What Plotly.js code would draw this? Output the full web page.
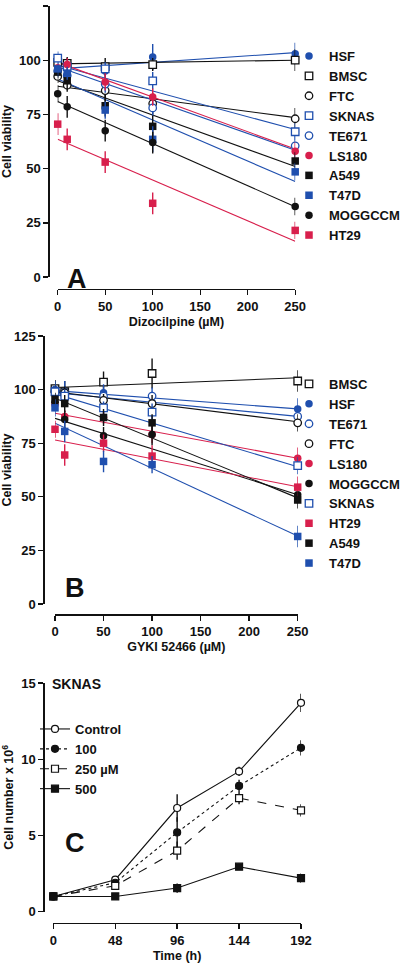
<!DOCTYPE html>
<html><head><meta charset="utf-8">
<script src="https://cdn.plot.ly/plotly-3.0.1.min.js"></script>
<style>html,body{margin:0;padding:0;background:#fff}#chart{width:400px;height:970px}</style>
</head><body><div id="chart"></div>
<script>
// ---------- DATA ----------
// Panel A: Dizocilpine (µM)
const doseA = [0, 10, 50, 100, 250];
const fitDoseA = [0, 250];
const orderA = ['HSF','BMSC','FTC','SKNAS','TE671','LS180','A549','T47D','MOGGCCM','HT29'];
const valA_HSF     = [98, 98, 95, 101.5, 103];
const valA_BMSC    = [99, 98.5, 97, 98, 100];
const valA_FTC     = [92.5, 88.5, 86, 80, 73];
const valA_SKNAS   = [101, 97, 96, 90.5, 67];
const valA_TE671   = [95, 93, 89, 78, 60.5];
const valA_LS180   = [96.5, 98, 90, 83, 58];
const valA_A549    = [94.5, 90.5, 79, 69.5, 53.5];
const valA_T47D    = [96, 94, 77, 63.5, 48.5];
const valA_MOGGCCM = [84.5, 78.5, 67.5, 62, 32.5];
const valA_HT29    = [70.5, 63.5, 53, 34, 21.5];
const errA_HSF     = [2, 3, 4, 6, 5];
const errA_BMSC    = [3, 3, 4, 3, 5];
const errA_FTC     = [3, 3, 5, 5, 5];
const errA_SKNAS   = [3, 3, 3, 4, 4];
const errA_TE671   = [3, 3, 4, 4, 5];
const errA_LS180   = [2, 3, 4, 4, 4];
const errA_A549    = [3, 4, 5, 5, 4];
const errA_T47D    = [3, 3, 4, 6, 4];
const errA_MOGGCCM = [4, 5, 5, 5, 4];
const errA_HT29    = [5, 5, 5, 5, 4];
const fitA_HSF     = [96, 103.5];
const fitA_BMSC    = [98.3, 100];
const fitA_FTC     = [88, 73.5];
const fitA_SKNAS   = [97.7, 68];
const fitA_TE671   = [97, 58.5];
const fitA_LS180   = [99, 59];
const fitA_A549    = [90.5, 51];
const fitA_T47D    = [91.3, 44];
const fitA_MOGGCCM = [81, 32.4];
const fitA_HT29    = [63.5, 16.5];

// Panel B: GYKI 52466 (µM)
const doseB = [0, 10, 50, 100, 250];
const fitDoseB = [0, 250];
const orderB = ['BMSC','HSF','TE671','FTC','LS180','MOGGCCM','SKNAS','HT29','A549','T47D'];
const valB_BMSC    = [100.5, 99, 103.5, 107.5, 104];
const valB_HSF     = [100, 99, 98.5, 94, 91];
const valB_TE671   = [99.5, 98.5, 97, 97, 87.5];
const valB_FTC     = [99, 98.5, 95, 93.5, 84.5];
const valB_LS180   = [93, 87.5, 87, 79, 68];
const valB_MOGGCCM = [94, 86, 78.5, 79, 51];
const valB_SKNAS   = [99, 97, 91.5, 89.5, 64.5];
const valB_HT29    = [81.5, 69.5, 75, 69, 54.5];
const valB_A549    = [95.5, 93.5, 87, 84.5, 48.5];
const valB_T47D    = [91.5, 80.5, 66.5, 65, 31.5];
const errB_BMSC    = [4, 5, 5, 7, 5];
const errB_HSF     = [4, 5, 4, 5, 5];
const errB_TE671   = [3, 3, 3, 4, 4];
const errB_FTC     = [3, 3, 3, 4, 4];
const errB_LS180   = [3, 3, 3, 4, 5];
const errB_MOGGCCM = [3, 4, 4, 5, 4];
const errB_SKNAS   = [3, 3, 3, 4, 4];
const errB_HT29    = [4, 5, 4, 5, 5];
const errB_A549    = [3, 4, 4, 4, 4];
const errB_T47D    = [4, 5, 5, 4, 5];
const fitB_BMSC    = [101, 105.5];
const fitB_HSF     = [99.5, 91];
const fitB_TE671   = [98.5, 87.5];
const fitB_FTC     = [99, 85];
const fitB_LS180   = [89, 68];
const fitB_MOGGCCM = [86.6, 51];
const fitB_SKNAS   = [98, 64];
const fitB_HT29    = [76.5, 54.7];
const fitB_A549    = [96, 49.5];
const fitB_T47D    = [84.3, 31.7];

// Panel C: SKNAS growth, Time (h)
const timeC = [0, 48, 96, 144, 192];
const namesC = ['Control', '100', '250 µM', '500'];
const cellsC_control = [1.0, 2.1, 6.8, 9.2, 13.7];
const cellsC_100     = [1.0, 1.9, 5.2, 8.25, 10.75];
const cellsC_250     = [1.0, 1.7, 4.0, 7.45, 6.65];
const cellsC_500     = [1.0, 1.0, 1.55, 2.95, 2.2];
const errC_control   = [0.05, 0.1, 0.9, 0.3, 0.6];
const errC_100       = [0.05, 0.1, 1.0, 0.4, 0.5];
const errC_250       = [0.05, 0.1, 0.6, 0.4, 0.4];
const errC_500       = [0.05, 0.05, 0.3, 0.2, 0.3];

const ticksA = [0, 50, 100, 150, 200, 250];
const ticksV = [0, 25, 50, 75, 100, 125];
const ticksT = [0, 48, 96, 144, 192];
const ticksN = [0, 5, 10, 15];

// ---------- STYLE ----------
const BLUE = '#1f4fae', RED = '#d81f4c', BLACK = '#111111';
const styles = {
  HSF:     {symbol: 'circle', color: BLUE,  open: false},
  BMSC:    {symbol: 'square', color: BLACK, open: true},
  FTC:     {symbol: 'circle', color: BLACK, open: true},
  SKNAS:   {symbol: 'square', color: BLUE,  open: true},
  TE671:   {symbol: 'circle', color: BLUE,  open: true},
  LS180:   {symbol: 'circle', color: RED,   open: false},
  A549:    {symbol: 'square', color: BLACK, open: false},
  T47D:    {symbol: 'square', color: BLUE,  open: false},
  MOGGCCM: {symbol: 'circle', color: BLACK, open: false},
  HT29:    {symbol: 'square', color: RED,   open: false}
};

const dataA = {
  HSF: [valA_HSF, errA_HSF, fitA_HSF], BMSC: [valA_BMSC, errA_BMSC, fitA_BMSC],
  FTC: [valA_FTC, errA_FTC, fitA_FTC], SKNAS: [valA_SKNAS, errA_SKNAS, fitA_SKNAS],
  TE671: [valA_TE671, errA_TE671, fitA_TE671], LS180: [valA_LS180, errA_LS180, fitA_LS180],
  A549: [valA_A549, errA_A549, fitA_A549], T47D: [valA_T47D, errA_T47D, fitA_T47D],
  MOGGCCM: [valA_MOGGCCM, errA_MOGGCCM, fitA_MOGGCCM], HT29: [valA_HT29, errA_HT29, fitA_HT29]
};
const dataB = {
  BMSC: [valB_BMSC, errB_BMSC, fitB_BMSC], HSF: [valB_HSF, errB_HSF, fitB_HSF],
  TE671: [valB_TE671, errB_TE671, fitB_TE671], FTC: [valB_FTC, errB_FTC, fitB_FTC],
  LS180: [valB_LS180, errB_LS180, fitB_LS180], MOGGCCM: [valB_MOGGCCM, errB_MOGGCCM, fitB_MOGGCCM],
  SKNAS: [valB_SKNAS, errB_SKNAS, fitB_SKNAS], HT29: [valB_HT29, errB_HT29, fitB_HT29],
  A549: [valB_A549, errB_A549, fitB_A549], T47D: [valB_T47D, errB_T47D, fitB_T47D]
};

const traces = [];
function addPanel(order, data, dose, fitDose, xa, ya, legendId) {
  order.forEach(name => {
    const st = styles[name];
    traces.push({
      x: fitDose, y: data[name][2], mode: 'lines', xaxis: xa, yaxis: ya,
      line: {color: st.color, width: 1.1}, showlegend: false, hoverinfo: 'skip', cliponaxis: false
    });
  });
  order.forEach(name => {
    const st = styles[name];
    traces.push({
      x: dose, y: data[name][0], mode: 'markers', name: name, xaxis: xa, yaxis: ya,
      legend: legendId, cliponaxis: false,
      marker: {symbol: st.symbol, size: 7.5,
               color: st.open ? '#ffffff' : st.color,
               line: {color: st.color, width: st.open ? 1.3 : 0}},
      error_y: {type: 'data', array: data[name][1], visible: true, color: st.color, thickness: 1.4, width: 0}
    });
  });
}
addPanel(orderA, dataA, doseA, fitDoseA, 'x', 'y', 'legend');
addPanel(orderB, dataB, doseB, fitDoseB, 'x2', 'y2', 'legend2');

const seriesC = [
  [cellsC_control, errC_control, 'circle', '#ffffff', 'solid'],
  [cellsC_100, errC_100, 'circle', BLACK, 'dot'],
  [cellsC_250, errC_250, 'square', '#ffffff', 'dash'],
  [cellsC_500, errC_500, 'square', BLACK, 'solid']
];
seriesC.forEach((s, i) => {
  traces.push({
    x: timeC, y: s[0], mode: 'lines+markers', name: namesC[i], xaxis: 'x3', yaxis: 'y3',
    legend: 'legend3', cliponaxis: false,
    line: {color: BLACK, width: 1.1, dash: s[4]},
    marker: {symbol: s[2], size: 7, color: s[3], line: {color: BLACK, width: 1.2}},
    error_y: {type: 'data', array: s[1], visible: true, color: BLACK, thickness: 1.4, width: 0}
  });
});

// ---------- LAYOUT ----------
const H = 970, W = 400;
const py = p => 1 - p / H, px = p => p / W;
const FONT = {family: 'Liberation Sans, Arial, sans-serif', size: 13, color: '#111', weight: 'bold'};
function axis(domain, range, pos, ticks, title) {
  return {domain: domain, range: range, anchor: 'free', position: pos, showline: true, linecolor: '#111',
    linewidth: 1.4, ticks: 'outside', ticklen: 5, tickwidth: 1.4, tickcolor: '#111', tickvals: ticks,
    showgrid: false, zeroline: false, fixedrange: true, automargin: false,
    tickfont: {size: 13, weight: 'bold', family: FONT.family},
    title: {text: title, font: {size: 12.5, weight: 'bold', family: FONT.family}, standoff: 4}};
}
const legendBase = {xanchor: 'left', yanchor: 'top', bgcolor: 'rgba(0,0,0,0)', borderwidth: 0,
  font: {size: 13, weight: 'bold', family: FONT.family}, itemwidth: 30, tracegroupgap: 0};

const layout = {
  width: W, height: H, margin: {l: 0, r: 0, t: 0, b: 0, autoexpand: false},
  paper_bgcolor: '#fff', plot_bgcolor: 'rgba(0,0,0,0)', font: FONT, showlegend: true,
  xaxis:  axis([px(57.7), px(295.2)], [0, 250], py(289), ticksA, 'Dizocilpine (µM)'),
  yaxis:  axis([py(277), py(6)], [0, 125], px(48.3), ticksV, 'Cell viability'),
  xaxis2: axis([px(55), px(297.7)], [0, 250], py(614.3), ticksA, 'GYKI 52466 (µM)'),
  yaxis2: axis([py(604), py(336)], [0, 125], px(43.3), ticksV, 'Cell viability'),
  xaxis3: axis([px(53.3), px(301)], [0, 192], py(922.7), ticksT, 'Time (h)'),
  yaxis3: axis([py(911.7), py(683)], [0, 15], px(43.3), ticksN, 'Cell number x 10<sup>6</sup>'),
  legend:  Object.assign({}, legendBase, {x: px(289), y: py(41)}),
  legend2: Object.assign({}, legendBase, {x: px(289), y: py(369)}),
  legend3: Object.assign({}, legendBase, {x: px(35), y: py(714)}),
  annotations: [
    {text: 'A', x: px(65), y: py(262), xref: 'paper', yref: 'paper', showarrow: false, font: {size: 27, weight: 'bold', family: FONT.family}},
    {text: 'B', x: px(63), y: py(588), xref: 'paper', yref: 'paper', showarrow: false, font: {size: 27, weight: 'bold', family: FONT.family}},
    {text: 'C', x: px(63), y: py(860), xref: 'paper', yref: 'paper', showarrow: false, font: {size: 27, weight: 'bold', family: FONT.family}},
    {text: 'SKNAS', x: px(50), y: py(694), xref: 'paper', yref: 'paper', xanchor: 'left', showarrow: false, font: {size: 14, weight: 'bold', family: FONT.family}}
  ]
};

Plotly.newPlot('chart', traces, layout, {staticPlot: true, displayModeBar: false});
</script>
</body></html>
